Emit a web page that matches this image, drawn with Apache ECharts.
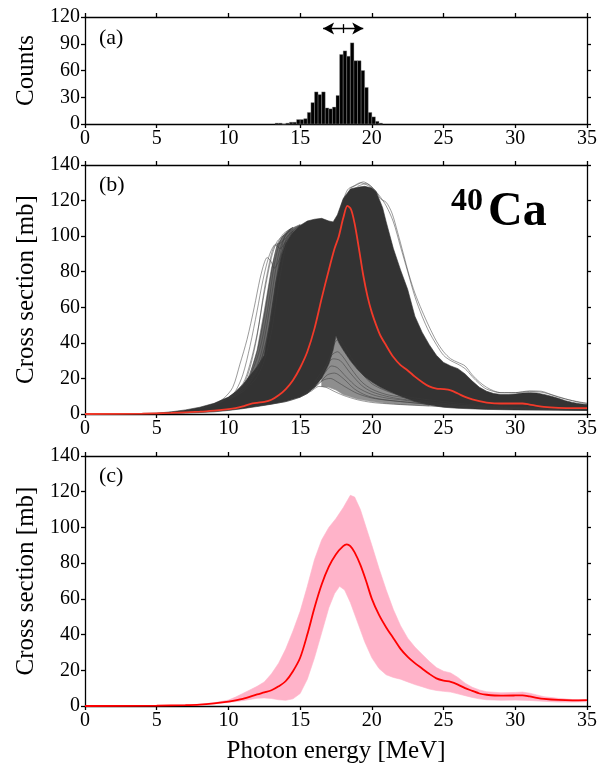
<!DOCTYPE html>
<html><head><meta charset="utf-8">
<script src="https://cdn.jsdelivr.net/npm/echarts@6/dist/echarts.min.js"></script>
<style>html,body{margin:0;padding:0;background:#fff}#c{width:606px;height:767px}</style>
</head><body><div id="c"></div>
<script>
// ---------- axis ranges / ticks ----------
const energyMin = 0, energyMax = 35, energyStep = 5;
const countsMin = 0, countsMax = 120, countsStep = 30;
const sigmaMin = 0, sigmaMax = 140, sigmaStep = 20;

// ---------- panel (a): histogram of peak energies ----------
const histBinWidth = 0.25;
const histBinStart = [13.25,13.5,13.75,14.0,14.25,14.5,14.75,15.0,15.25,15.5,15.75,16.0,16.25,16.5,16.75,17.0,17.25,17.5,17.75,18.0,18.25,18.5,18.75,19.0,19.25,19.5,19.75,20.0,20.25,20.5];
const histCounts   = [1,1,0,1,2,2,5,5,6,13,24,36,33,36,18,17,19,32,78,82,76,91,71,71,60,41,13,8,3,1];
const arrowFrom = 16.6, arrowTo = 19.4, arrowMid = 18.0, arrowLevel = 107;

// ---------- panel (b): bundle of sampled curves ----------
const bundleUpper = [[0,0],[3,0.1],[5,0.5],[6,1.2],[7,2.3],[8,3.8],[9,6],[10,9.5],[10.5,12.5],[11,16.5],[11.5,21.5],[12,26.5],[12.5,33],[12.9,52],[13.3,74],[13.7,89],[14,96],[14.5,102],[15,106],[15.5,108.5],[16,109.5],[16.5,110],[17,108.5],[17.3,108],[17.6,112],[18,121],[18.5,126.5],[19,127.5],[19.5,128],[20,127],[20.3,125],[20.75,116],[21,108],[21.5,93],[22,81],[22.5,70],[23,55],[23.5,46],[24,39],[24.5,33],[25,29],[25.5,27],[26,25.5],[26.5,22.5],[27,18.5],[27.5,15],[28,12.8],[28.5,11.5],[29,11],[29.5,11],[30,11.2],[30.5,11.8],[31,12],[31.5,11.8],[32,11],[32.5,10],[33,8.8],[33.5,7.5],[34,6.5],[34.5,5.8],[35,5.3]];
const bundleLower = [[0,0],[5,0],[6,0.2],[7,0.5],[8,0.8],[9,1.2],[10,2],[11,3],[12,4.2],[13,5.5],[14,7],[15,9.5],[15.5,11.5],[16,15],[16.5,20],[17,28],[17.3,36],[17.5,44],[17.7,40],[18,36],[18.5,30],[19,25],[19.5,21],[20,18],[20.6,15],[21,13.5],[22,10],[23,7],[24,5],[25,3.8],[26,3.2],[28,2.6],[30,2.3],[35,2]];
// regions where the sampled curves are spread but still close together
const fanLeftUpper = [[9,5.5],[10,9],[11,15],[11.5,22],[12,36],[12.5,58],[13,82],[13.4,95],[13.8,100],[14.3,104],[15,106.5]];
const fanLeftLower = [[9,5],[15,9.5]];
const fanLowUpper = [[16.5,20],[17,28],[17.3,36],[17.5,44],[17.7,40],[18,36],[18.5,30],[19,25],[19.5,21],[20,18],[20.6,15],[21,13.5],[22,10],[23,7],[24,5]];
const fanLowLower = [[16.5,15.5],[17,15],[17.5,13.5],[18,11],[19,8.5],[20,7],[21,6],[22,5.4],[24,4.6]];
// individual fringe curves that stand out of the bundle
const fringeLeft1 = [[8,3],[9,5.5],[9.7,9],[10.3,15],[10.8,28],[11.3,42],[11.8,60],[12.2,76],[12.5,85],[12.7,88],[12.95,86],[13.2,82],[13.6,88],[14,97],[14.5,103],[15,106]];
const fringeLeft2 = [[8,3],[9,5],[10,9],[10.5,13],[11,22],[11.5,38],[12,58],[12.4,75],[12.8,88],[13.2,95],[13.6,96],[14,99],[14.5,103]];
const fringeLeft3 = [[9,5],[10,9],[11,17],[11.5,28],[12,45],[12.5,68],[13,88],[13.4,97],[13.8,100],[14.3,103]];
const fringeLeft4 = [[9,5],[10,9],[11,15],[11.5,23],[12,35],[12.5,55],[13,80],[13.4,95],[13.8,101],[14.3,104]];
const fringeLeft5 = [[10,8.5],[11,14],[12,27],[12.5,42],[13,66],[13.5,90],[14,101],[14.5,105]];
const fringeLeft6 = [[10,8],[11,13],[12,24],[12.5,36],[13,55],[13.5,82],[14,98],[14.5,104]];
const fringeLeft7 = [[10,8],[11,12.5],[11.5,16],[12,21],[12.5,30],[13,46],[13.5,72],[14,94],[14.5,103]];
const fringeLeft8 = [[9,5],[10,9],[11,16],[11.5,26],[12,44],[12.5,70],[13,90],[13.3,95],[13.6,93],[14,97],[14.5,102]];
const fringeLeft9 = [[10,9],[11,15],[11.8,27],[12.3,40],[12.8,62],[13.2,84],[13.6,97],[14,102],[14.5,105]];
const fringeLeft10 = [[10,8.5],[11,14],[12,25],[12.6,40],[13.1,62],[13.5,84],[13.9,99],[14.4,104]];
const fringeRight1 = [[18.5,127],[19,129],[19.4,130.5],[19.8,129],[20.2,126],[20.6,121],[21,119],[21.4,113],[21.8,102],[22.2,90],[22.6,78],[23,68],[23.5,58],[24,49],[24.5,41],[25,35],[25.5,31],[26,29],[26.5,27],[27,22],[27.5,18],[28,15],[28.5,13],[29,12],[30,12],[31,13],[31.8,12.8],[32.5,11],[33.5,8.5],[34.5,6.5],[35,6]];
const fringeRight2 = [[19,128],[19.6,129.5],[20,127.5],[20.5,123],[21,117],[21.5,108],[22,94],[22.5,80],[23,66],[23.5,55],[24,46],[24.5,39],[25,33],[25.5,30],[26,28],[26.5,25.5],[27,21],[27.5,17],[28,14],[29,12],[30,12],[31,12.7],[32,12],[33,9.5],[34,7.5],[35,6]];
const fringeTop1 = [[17.8,115],[18.3,126],[18.8,128.5],[19.2,130],[19.6,129],[20,127]];
const fringeLow1 = [[12,4.5],[14,7],[15,9.5],[15.8,13],[16.3,15.5],[16.8,15],[17.3,13],[18,10.5],[19,8],[20,6.5],[21,5.8],[22,5.3],[24,4.5],[26,3.8],[30,2.8],[35,2.2]];
const fringeLow2 = [[15,10],[16,15],[16.6,19],[17.1,20],[17.6,18],[18.2,15],[19,11.5],[20,9],[21,7.8],[22,7],[24,5.5],[26,4.3],[30,3],[35,2.3]];
const fringeLow3 = [[15,10],[16,16],[16.7,23],[17.2,27],[17.6,26],[18.2,21],[19,15],[20,11],[21,9],[22,8],[24,6],[26,4.5],[30,3],[35,2.3]];
const fringeLow4 = [[16,16],[16.7,25],[17.2,33],[17.6,35],[18,32],[18.6,25],[19.3,18],[20,14],[21,11],[22,9.5],[23,8],[25,6],[28,4],[35,2.5]];
const fringeLow5 = [[16.5,22],[17,31],[17.4,40],[17.7,42],[18.1,38],[18.7,30],[19.4,22],[20,17],[21,13],[22,10.5],[23,9],[25,7],[28,4.5],[35,2.6]];
const fringeLow6 = [[16,18],[16.8,27],[17.3,31],[17.8,30],[18.5,23],[19.3,16],[20,12.5],[21,10],[22,8.5],[24,6.5],[27,4.5],[35,2.4]];
const fringeLow7 = [[15.5,12],[16.3,17],[16.9,22],[17.4,23],[18,20],[18.8,14],[19.6,10.5],[20.5,8.5],[22,7],[24,5.5],[28,3.5],[35,2.2]];
const meanB = [[0,0],[4,0.2],[6,0.6],[8,1.3],[9,1.9],[10,2.7],[10.5,3.3],[11,4.3],[11.5,5.6],[12,6.3],[12.5,6.8],[13,8],[13.5,10.5],[14,14],[14.5,19],[15,26],[15.5,35],[16,48],[16.5,65],[17,81],[17.4,93],[17.7,100],[18,110],[18.3,117],[18.55,115],[18.8,107],[19.1,93],[19.4,78],[19.7,66],[20,57],[20.3,50],[20.6,44],[21,38.5],[21.5,32],[22,27.5],[22.5,24.5],[23,21],[23.5,18],[24,15.5],[24.5,14.3],[25,14],[25.5,13.3],[26,11.5],[26.5,9.6],[27,8.2],[27.5,7.2],[28,6.4],[29,5.9],[30,5.9],[30.5,5.9],[31,5.3],[31.5,4.6],[32,4],[33,3.5],[34,3.3],[35,3.3]];

// ---------- panel (c): mean and uncertainty band ----------
const meanC = [[0,0],[5,0.2],[7,0.5],[8,0.8],[9,1.5],[10,2.5],[11,4],[12,6.5],[12.5,7.6],[13,8.8],[13.5,11],[14,14],[14.5,19.5],[15,27],[15.5,40],[16,55],[16.5,68],[17,78],[17.5,85],[18,89.5],[18.25,90.5],[18.5,89.5],[18.8,86],[19.2,79],[19.6,70],[20,60],[20.5,51],[21,44],[21.5,38],[22,32],[22.5,27.5],[23,24],[23.5,21],[24,18],[24.5,15.5],[25,14.2],[25.5,13.5],[26,12],[26.5,10],[27,8.5],[27.5,7],[28,6.3],[29,5.8],[30,5.9],[30.5,6.0],[31,5.4],[31.5,4.6],[32,4],[33,3.4],[34,3.2],[35,3.3]];
const bandCUpper = [[0,0],[5,0.2],[7,0.6],[8,1],[9,1.8],[10,3.3],[10.5,5],[11,7],[11.5,9],[12,11],[12.5,13.5],[13,18],[13.5,24],[14,32],[14.5,42],[15,53],[15.5,67],[16,82],[16.5,93],[17,100],[17.5,105],[18,111],[18.5,118],[18.8,117],[19.2,110],[19.6,100],[20,90],[20.5,77],[21,65],[21.5,54],[22,45],[22.5,38],[23,33],[23.5,29],[24,25],[24.5,21.5],[25,19.5],[25.5,18.5],[26,16],[26.5,12.8],[27,10.5],[27.5,9],[28,8],[29,7.4],[30,7.6],[30.5,7.8],[31,7.2],[31.5,6.2],[32,5.2],[33,4.3],[34,3.6],[35,3.5]];
const bandCLower = [[0,0],[5,0.2],[7,0.4],[8,0.7],[9,1.2],[10,2],[11,3],[11.5,3.7],[12,4.3],[12.5,4.5],[13,4.2],[13.5,3.5],[14,3.2],[14.5,4],[15,7],[15.5,15],[16,27],[16.5,41],[17,55],[17.4,63],[17.75,67],[18.1,65],[18.5,58],[19,47],[19.5,36],[20,27],[20.5,21],[21,17.5],[21.5,16],[22,15],[22.5,13.5],[23,12],[23.5,10.8],[24,9.5],[24.5,8.7],[25,8.2],[25.5,7.8],[26,6.8],[26.5,5.8],[27,4.8],[27.5,4],[28,3.5],[29,3.2],[30,3.3],[31,3.1],[32,2.6],[33,2.2],[34,2.2],[35,2.4]];

// ---------- texts ----------
const panelLabels = ['(a)','(b)','(c)'];
const yNames = ['Counts','Cross section [mb]','Cross section [mb]'];
const xName = 'Photon energy [MeV]';
const nucleusMass = '40', nucleusSymbol = 'Ca';

// ---------- build ----------
const FONT = '"Liberation Serif", "DejaVu Serif", serif';
const grids = [
  {left:85, right:19, top:17, height:107},
  {left:85, right:19, top:165, height:249},
  {left:85, right:19, top:456, height:250}
];
const axLine = {show:true, onZero:false, lineStyle:{color:'#000', width:1.3}};
const axTick = {show:true, length:4, inside:false, lineStyle:{color:'#000', width:1.3}};
function xAxis(gi, pos, labels, name){
  return {type:'value', gridIndex:gi, position:pos, min:energyMin, max:energyMax, interval:energyStep,
    axisLine:axLine, axisTick:axTick, splitLine:{show:false},
    axisLabel:{show:labels, fontFamily:FONT, fontSize:20, color:'#000', margin:5},
    name: name||'', nameLocation:'middle', nameGap:33,
    nameTextStyle:{fontFamily:FONT, fontSize:25, color:'#000'}};
}
function yAxis(gi, pos, labels, mn, mx, step, name){
  return {type:'value', gridIndex:gi, position:pos, min:mn, max:mx, interval:step,
    axisLine:axLine, axisTick:axTick, splitLine:{show:false},
    axisLabel:{show:labels, fontFamily:FONT, fontSize:20, color:'#000', margin:5},
    name: name||'', nameLocation:'middle', nameGap:40, nameRotate:90,
    nameTextStyle:{fontFamily:FONT, fontSize:25, color:'#000'}};
}
const xAxes = [
  xAxis(0,'bottom',true), xAxis(0,'top',false),
  xAxis(1,'bottom',true), xAxis(1,'top',false),
  xAxis(2,'bottom',true, xName), xAxis(2,'top',false)
];
const yAxes = [
  yAxis(0,'left',true,countsMin,countsMax,countsStep,yNames[0]), yAxis(0,'right',false,countsMin,countsMax,countsStep),
  yAxis(1,'left',true,sigmaMin,sigmaMax,sigmaStep,yNames[1]), yAxis(1,'right',false,sigmaMin,sigmaMax,sigmaStep),
  yAxis(2,'left',true,sigmaMin,sigmaMax,sigmaStep,yNames[2]), yAxis(2,'right',false,sigmaMin,sigmaMax,sigmaStep)
];

function band(upper, lower, color, xi, yi, z){
  return {type:'custom', xAxisIndex:xi, yAxisIndex:yi, silent:true, z:z, clip:true,
    data:[upper[0]], encode:{x:0,y:1},
    renderItem:(p, api)=>{
      const pts = upper.map(d=>api.coord(d)).concat(lower.slice().reverse().map(d=>api.coord(d)));
      return {type:'polygon', shape:{points:pts}, style:{fill:color, stroke:color, lineWidth:0.6}};
    }};
}
function line(data, color, width, xi, yi, z, opacity){
  return {type:'line', xAxisIndex:xi, yAxisIndex:yi, data:data, symbol:'none', showSymbol:false,
    smooth:0.3, silent:true, z:z, clip:true, lineStyle:{color:color, width:width, opacity:opacity==null?1:opacity}};
}

const histData = histBinStart.map((s,i)=>[s, histCounts[i]]);
const series = [];
series.push({type:'custom', xAxisIndex:0, yAxisIndex:0, data:histData, encode:{x:0,y:1}, silent:true,
  renderItem:(p, api)=>{
    const s = api.value(0), c = api.value(1);
    const p0 = api.coord([s, 0]), p1 = api.coord([s+histBinWidth, c]);
    return {type:'rect', shape:{x:p0[0], y:p1[1], width:p1[0]-p0[0], height:p0[1]-p1[1]},
      style:{fill:'#000', stroke:'#9a9a9a', lineWidth:0.35}};
  }});
series.push({type:'line', xAxisIndex:0, yAxisIndex:0, data:[], silent:true,
  markLine:{silent:true, animation:false, label:{show:false},
    lineStyle:{color:'#000', width:1.3, type:'solid'},
    data:[
      [{coord:[arrowFrom,arrowLevel], symbol:'arrow', symbolSize:[9,11]},{coord:[arrowTo,arrowLevel], symbol:'arrow', symbolSize:[9,11]}],
      [{coord:[arrowMid,arrowLevel-5], symbol:'none'},{coord:[arrowMid,arrowLevel+5], symbol:'none'}]
    ]}});

series.push(band(fanLeftUpper, fanLeftLower, '#6a6a6a', 2, 2, 1));
series.push(band(fanLowUpper, fanLowLower, '#8e8e8e', 2, 2, 1));
series.push(band(bundleUpper, bundleLower, '#333333', 2, 2, 2));
const fringes = [fringeLeft1,fringeLeft2,fringeLeft3,fringeLeft4,fringeLeft5,fringeLeft6,fringeLeft7,fringeLeft8,fringeLeft9,fringeLeft10,
  fringeRight1,fringeRight2,fringeTop1,fringeLow1,fringeLow2,fringeLow3,fringeLow4,fringeLow5,fringeLow6,fringeLow7];
fringes.forEach(f=>series.push(line(f, '#3a3a3a', 0.6, 2, 2, 3, 0.85)));
series.push(line(meanB, '#f23a2a', 1.8, 2, 2, 5));

series.push(band(bandCUpper, bandCLower, '#ffb3c9', 4, 4, 2));
series.push(line(meanC, '#ff0000', 1.8, 4, 4, 5));

const graphic = [
  {type:'text', left:99, top:27, style:{text:panelLabels[0], font:'22px "Liberation Serif"', fill:'#000'}},
  {type:'text', left:99, top:174, style:{text:panelLabels[1], font:'22px "Liberation Serif"', fill:'#000'}},
  {type:'text', left:99, top:465, style:{text:panelLabels[2], font:'22px "Liberation Serif"', fill:'#000'}},
  {type:'text', left:451, top:186, style:{text:nucleusMass, font:'bold 32px "Liberation Serif"', fill:'#000'}},
  {type:'text', left:488, top:189, style:{text:nucleusSymbol, font:'bold 48px "Liberation Serif"', fill:'#000'}}
];

const chart = echarts.init(document.getElementById('c'), null, {renderer:'canvas'});
chart.setOption({animation:false, backgroundColor:'#fff', textStyle:{fontFamily:FONT},
  grid:grids, xAxis:xAxes, yAxis:yAxes, series:series, graphic:graphic});
</script></body></html>
